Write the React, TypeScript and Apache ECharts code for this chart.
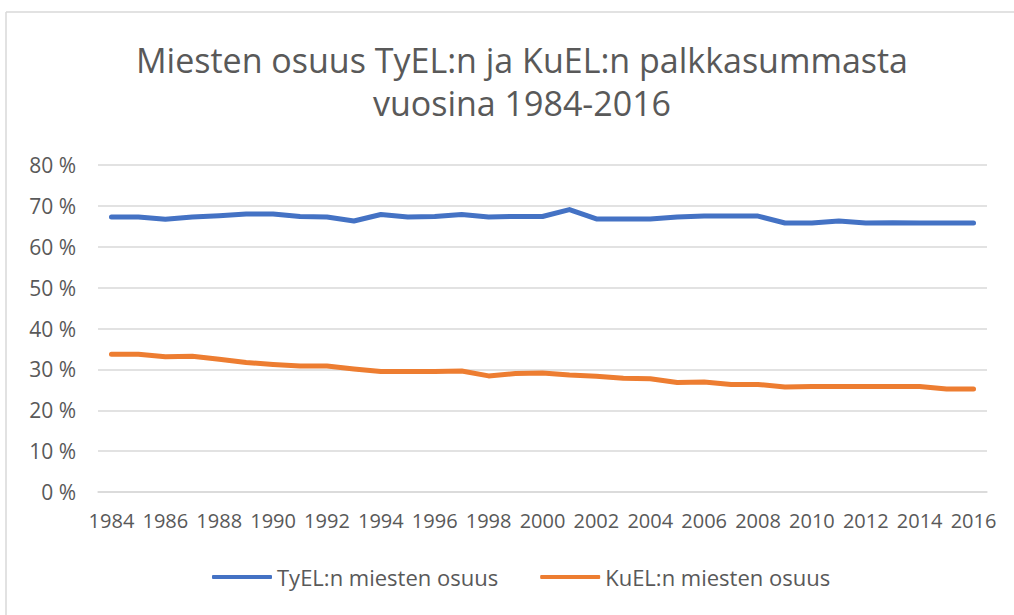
import React, { useEffect, useRef } from "react";
import * as echarts from "echarts";

const years = [
  "1984","1985","1986","1987","1988","1989","1990","1991","1992","1993","1994",
  "1995","1996","1997","1998","1999","2000","2001","2002","2003","2004","2005",
  "2006","2007","2008","2009","2010","2011","2012","2013","2014","2015","2016",
];
const tyelMen = [
  67.3, 67.3, 66.7, 67.3, 67.6, 68.0, 68.0, 67.4, 67.3, 66.3, 67.9,
  67.3, 67.4, 67.9, 67.3, 67.4, 67.4, 69.1, 66.8, 66.8, 66.8, 67.3,
  67.5, 67.5, 67.5, 65.8, 65.8, 66.3, 65.8, 65.9, 65.8, 65.8, 65.8,
];
const kuelMen = [
  33.7, 33.7, 33.1, 33.2, 32.5, 31.7, 31.2, 30.8, 30.8, 30.1, 29.5,
  29.5, 29.5, 29.6, 28.4, 29.0, 29.1, 28.6, 28.3, 27.8, 27.7, 26.8,
  26.9, 26.3, 26.3, 25.7, 25.8, 25.8, 25.8, 25.8, 25.8, 25.2, 25.2,
];
const seriesNames = ["TyEL:n miesten osuus", "KuEL:n miesten osuus"];
const titleText = "Miesten osuus TyEL:n ja KuEL:n palkkasummasta\nvuosina 1984-2016";

const FONT = "Open Sans";
const TXT = "#595959";

export default function App() {
  const ref = useRef<HTMLDivElement>(null);
  useEffect(() => {
    if (!ref.current) return;
    const chart = echarts.init(ref.current, null, { renderer: "svg" });
    chart.setOption({
      animation: false,
      backgroundColor: "#ffffff",
      textStyle: { fontFamily: FONT, color: TXT },
      title: {
        text: titleText,
        left: 517,
        textAlign: "center",
        top: 33,
        textStyle: {
          fontFamily: FONT,
          fontSize: 34,
          fontWeight: "normal",
          color: TXT,
          lineHeight: 43,
        },
      },
      graphic: [
        { type: "line", shape: { x1: 6, y1: 12, x2: 1014, y2: 12 }, style: { stroke: "#D9D9D9", lineWidth: 1.5 } },
        { type: "line", shape: { x1: 6, y1: 12, x2: 6, y2: 615 }, style: { stroke: "#D9D9D9", lineWidth: 1.5 } },
      ],
      legend: {
        bottom: 22,
        left: 207,
        itemWidth: 60,
        itemHeight: 4,
        itemGap: 42,
        icon: "roundRect",
        textStyle: { fontFamily: FONT, fontSize: 22, color: TXT, padding: [0, 0, 0, 0] },
        data: seriesNames,
      },
      grid: { left: 98, right: 27, top: 165, bottom: 123, containLabel: false },
      xAxis: {
        type: "category",
        data: years,
        boundaryGap: true,
        axisLine: { lineStyle: { color: "#D9D9D9", width: 1.5 } },
        axisTick: { show: false },
        axisLabel: {
          interval: 1,
          color: TXT,
          fontFamily: FONT,
          fontSize: 20,
          margin: 18,
          hideOverlap: false,
        },
      },
      yAxis: {
        type: "value",
        min: 0,
        max: 80,
        interval: 10,
        axisLine: { show: false },
        axisTick: { show: false },
        splitLine: { lineStyle: { color: "#D9D9D9", width: 1.5 } },
        axisLabel: {
          formatter: (v: number) => `${v} %`,
          color: TXT,
          fontFamily: FONT,
          fontSize: 21,
          margin: 22,
        },
      },
      series: [
        {
          name: seriesNames[0],
          type: "line",
          data: tyelMen,
          showSymbol: false,
          symbol: "none",
          lineStyle: { color: "#4472C4", width: 5, cap: "round", join: "round" },
          itemStyle: { color: "#4472C4" },
        },
        {
          name: seriesNames[1],
          type: "line",
          data: kuelMen,
          showSymbol: false,
          symbol: "none",
          lineStyle: { color: "#ED7D31", width: 5, cap: "round", join: "round" },
          itemStyle: { color: "#ED7D31" },
        },
      ],
    });
    return () => chart.dispose();
  }, []);
  return (
    <div
      ref={ref}
      style={{ position: "fixed", left: 0, top: 0, width: 1014, height: 615 }}
    />
  );
}
